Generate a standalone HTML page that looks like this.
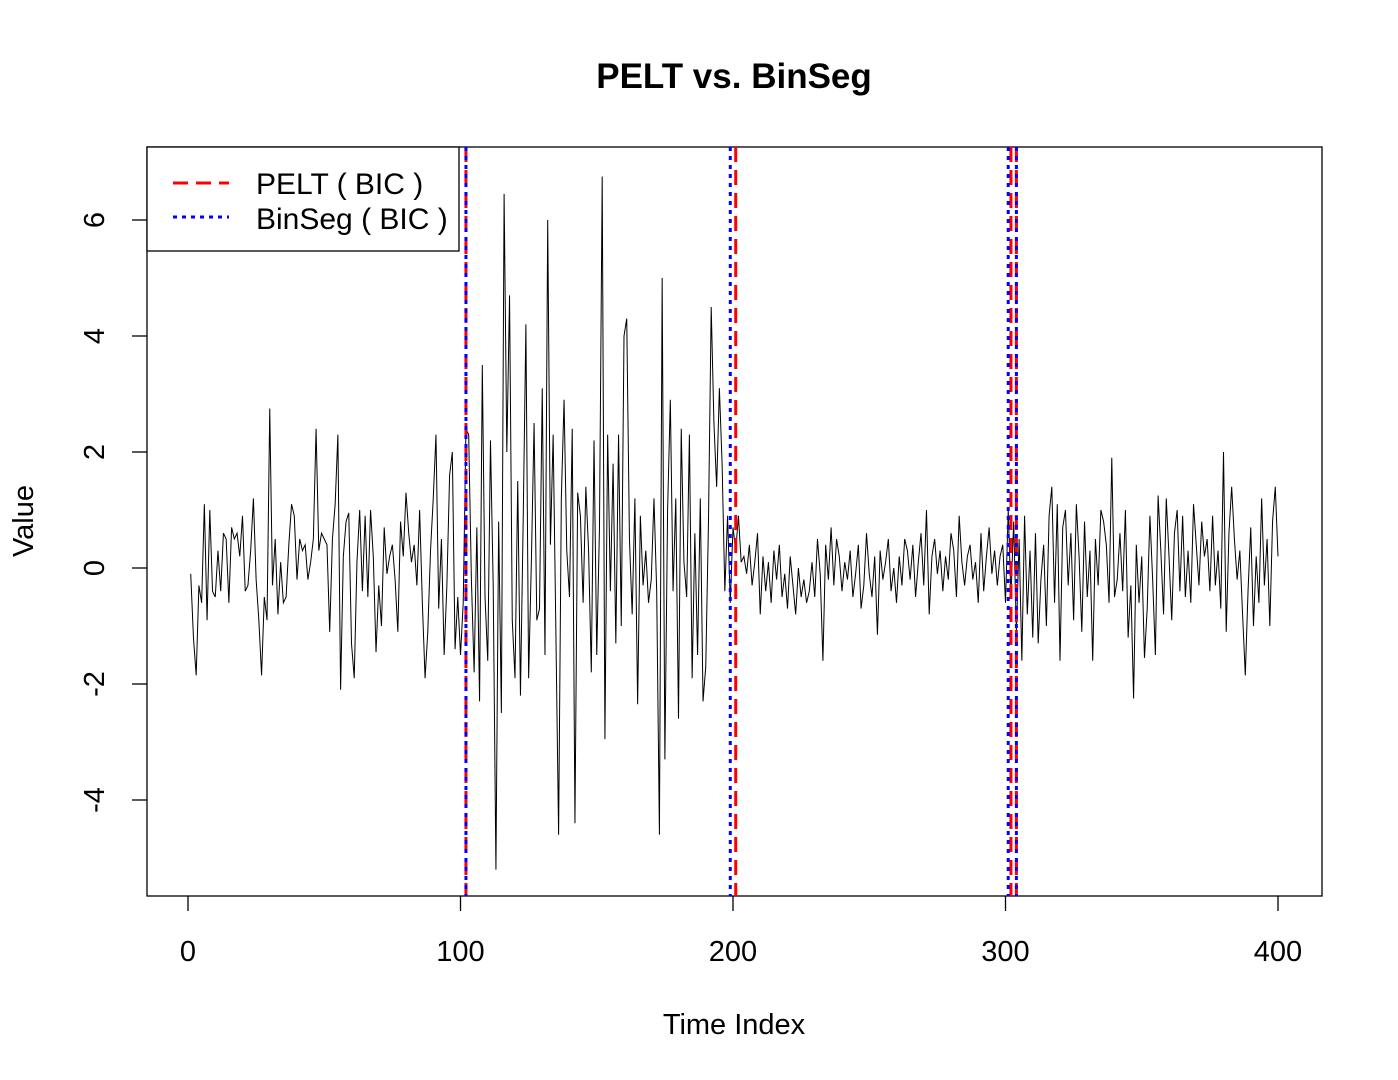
<!DOCTYPE html>
<html><head><meta charset="utf-8"><style>
body{margin:0;background:#fff}
svg{display:block;font-family:"Liberation Sans",Arial,sans-serif}
</style></head><body>
<svg id="chart" width="1398" height="1080">
<text x="734" y="88" text-anchor="middle" font-size="35" font-weight="bold">PELT vs. BinSeg</text>
<rect x="147" y="147" width="1175" height="749" fill="none" stroke="#000" stroke-width="1.3"/>
<g id="xaxis"></g>
<g id="yaxis"></g>
<text x="734" y="1034" text-anchor="middle" font-size="29">Time Index</text>
<text x="0" y="0" transform="translate(33,521) rotate(-90)" text-anchor="middle" font-size="29">Value</text>
<g id="series"></g>
<g id="cps"></g>
<g>
<rect x="147" y="147" width="312" height="104" fill="#fff" stroke="#000" stroke-width="1.3"/>
<line x1="173" y1="183" x2="229" y2="183" stroke="#f00" stroke-width="3" stroke-dasharray="15 8"/>
<line x1="173" y1="217" x2="229" y2="217" stroke="#00f" stroke-width="3" stroke-dasharray="4 5"/>
<text x="256" y="194" font-size="30">PELT ( BIC )</text>
<text x="256" y="229" font-size="30">BinSeg ( BIC )</text>
</g>
</svg>
<script>
const values = [
-0.1,-1.2,-1.85,-0.3,-0.6,1.1,-0.9,1.0,-0.4,-0.5,0.3,-0.4,0.6,0.5,-0.6,0.7,0.5,0.6,0.2,0.9,
-0.4,-0.3,0.3,1.2,-0.2,-0.9,-1.85,-0.5,-0.9,2.75,-0.3,0.5,-0.8,0.1,-0.6,-0.5,0.4,1.1,0.9,-0.2,
0.5,0.3,0.4,-0.2,0.1,0.5,2.4,0.3,0.6,0.5,0.4,-1.1,0.5,1.1,2.3,-2.1,0.2,0.8,0.95,-1.3,
-1.9,0.1,1.0,-0.4,0.9,-0.5,1.0,0.2,-1.45,-0.3,-1.0,0.7,-0.1,0.2,0.4,-0.2,-1.1,0.8,0.2,1.3,
0.6,0.1,0.4,-0.3,1.0,-0.6,-1.9,-1.1,0.3,1.2,2.3,-0.7,0.5,-1.5,-0.3,1.6,2.0,-1.4,-0.5,-1.5,-0.6,
2.4,2.3,-0.2,-1.8,0.7,-2.3,3.5,-0.5,-1.6,2.2,-0.3,-5.2,0.8,-2.5,6.45,2.0,4.7,-0.9,-1.9,1.5,
-2.2,0.8,4.2,-1.9,0.1,2.5,-0.9,-0.7,3.1,-1.5,6.0,0.4,2.3,-1.1,-4.6,1.2,2.9,0.3,-0.5,2.4,
-4.4,1.3,0.9,-0.6,1.4,0.3,-1.8,2.2,-1.5,0.7,6.75,-2.95,2.3,-0.4,1.8,-1.3,2.3,-1.0,4.0,4.3,
0.5,-0.8,1.2,-2.35,0.9,-0.3,0.3,-0.6,-0.2,1.2,-0.4,-4.6,5.0,-3.3,1.0,2.9,-0.4,1.2,-2.6,2.4,
0.1,-0.5,2.3,-1.9,0.6,-1.5,1.2,-2.3,-1.7,0.8,4.5,2.5,1.4,3.1,1.8,-0.4,0.9,-0.6,0.7,
0.3,0.9,0.1,0.2,-0.1,0.4,-0.3,0.1,0.6,-0.8,0.2,-0.4,0.1,-0.6,0.3,-0.2,0.4,-0.5,-0.1,-0.7,
0.2,-0.3,-0.8,0.0,-0.5,-0.2,-0.6,-0.4,0.1,-0.5,0.5,-0.1,-1.6,0.4,-0.2,0.7,-0.3,0.5,0.2,-0.4,
0.1,-0.2,0.3,-0.5,-0.1,0.4,-0.7,-0.3,0.6,-0.1,-0.5,0.2,-1.15,0.3,-0.2,0.1,0.5,-0.4,0.0,-0.6,
0.2,-0.3,0.5,0.3,-0.2,0.4,-0.5,0.1,0.6,-0.3,1.0,-0.8,0.2,0.5,-0.1,0.3,-0.4,0.2,-0.2,0.6,
0.3,-0.5,0.9,0.1,-0.3,0.2,0.4,-0.2,0.1,-0.6,0.6,-0.4,0.2,0.7,-0.1,0.3,-0.3,0.2,0.4,-0.6,1.0,-0.5,0.8,
-1.1,0.5,-1.6,0.9,-0.8,0.3,-1.2,0.6,-1.3,-0.2,0.4,-1.0,0.9,1.4,-0.6,1.1,-1.6,0.7,1.0,-0.3,
0.6,-0.9,1.1,0.2,-1.1,0.8,-0.5,0.3,-1.6,0.5,-0.3,1.0,0.8,0.4,-0.6,1.9,-0.5,-0.2,0.6,-0.4,
1.0,-1.2,-0.3,-2.25,0.4,-0.6,0.2,-1.55,-0.7,0.9,-0.2,-1.5,1.25,0.3,-0.8,1.2,0.2,-0.9,0.6,1.0,
-0.4,0.9,-0.5,0.3,-0.6,1.1,0.4,-0.3,0.8,0.2,0.5,-0.4,0.9,-0.3,0.3,-0.7,2.0,-1.1,0.6,1.4,
0.5,-0.2,0.3,-0.8,-1.85,-0.4,0.7,-1.0,0.2,-0.6,1.2,-0.3,0.5,-1.0,0.8,1.4,0.2
];
const xTicks = [0,100,200,300,400];
const yTicks = [-4,-2,0,2,4,6];
const peltCps = [102,201,302,304];
const binsegCps = [102,199,301,304];

const NS='http://www.w3.org/2000/svg';
const xs = v => 188 + (v-0)*(1278-188)/400;
const ys = v => 568 - v*58;
function mk(tag, attrs, parent){const e=document.createElementNS(NS,tag);for(const k in attrs)e.setAttribute(k,attrs[k]);parent.appendChild(e);return e;}

const xa=document.getElementById('xaxis');
xTicks.forEach(t=>{
  const l=mk('line',{x1:xs(t),x2:xs(t),y1:896,y2:911,stroke:'#000','stroke-width':1.3},xa);
  
  
  const tx=mk('text',{x:xs(t),y:961,'text-anchor':'middle','font-size':29},xa);
  tx.textContent=t;
  
  
});
const ya=document.getElementById('yaxis');
yTicks.forEach(t=>{
  const l=mk('line',{x1:132,x2:147,y1:ys(t),y2:ys(t),stroke:'#000','stroke-width':1.3},ya);
  
  
  const tx=mk('text',{x:0,y:0,transform:`translate(104,${ys(t)}) rotate(-90)`,'text-anchor':'middle','font-size':29},ya);
  tx.textContent=t;
  
  
});
const sg=document.getElementById('series');
const pts=values.map((v,i)=>xs(i+1).toFixed(2)+','+ys(v).toFixed(2)).join(' ');
const pl=mk('polyline',{points:pts,fill:'none',stroke:'#000','stroke-width':1},sg);


const cg=document.getElementById('cps');
peltCps.forEach(c=>{
  const l=mk('line',{x1:xs(c),x2:xs(c),y1:147,y2:896,stroke:'#f00','stroke-width':3,'stroke-dasharray':'15 8'},cg);
  
  
});
binsegCps.forEach(c=>{
  const l=mk('line',{x1:xs(c),x2:xs(c),y1:147,y2:896,stroke:'#00f','stroke-width':3,'stroke-dasharray':'4 5'},cg);
  
  
});
</script>
</body></html>
